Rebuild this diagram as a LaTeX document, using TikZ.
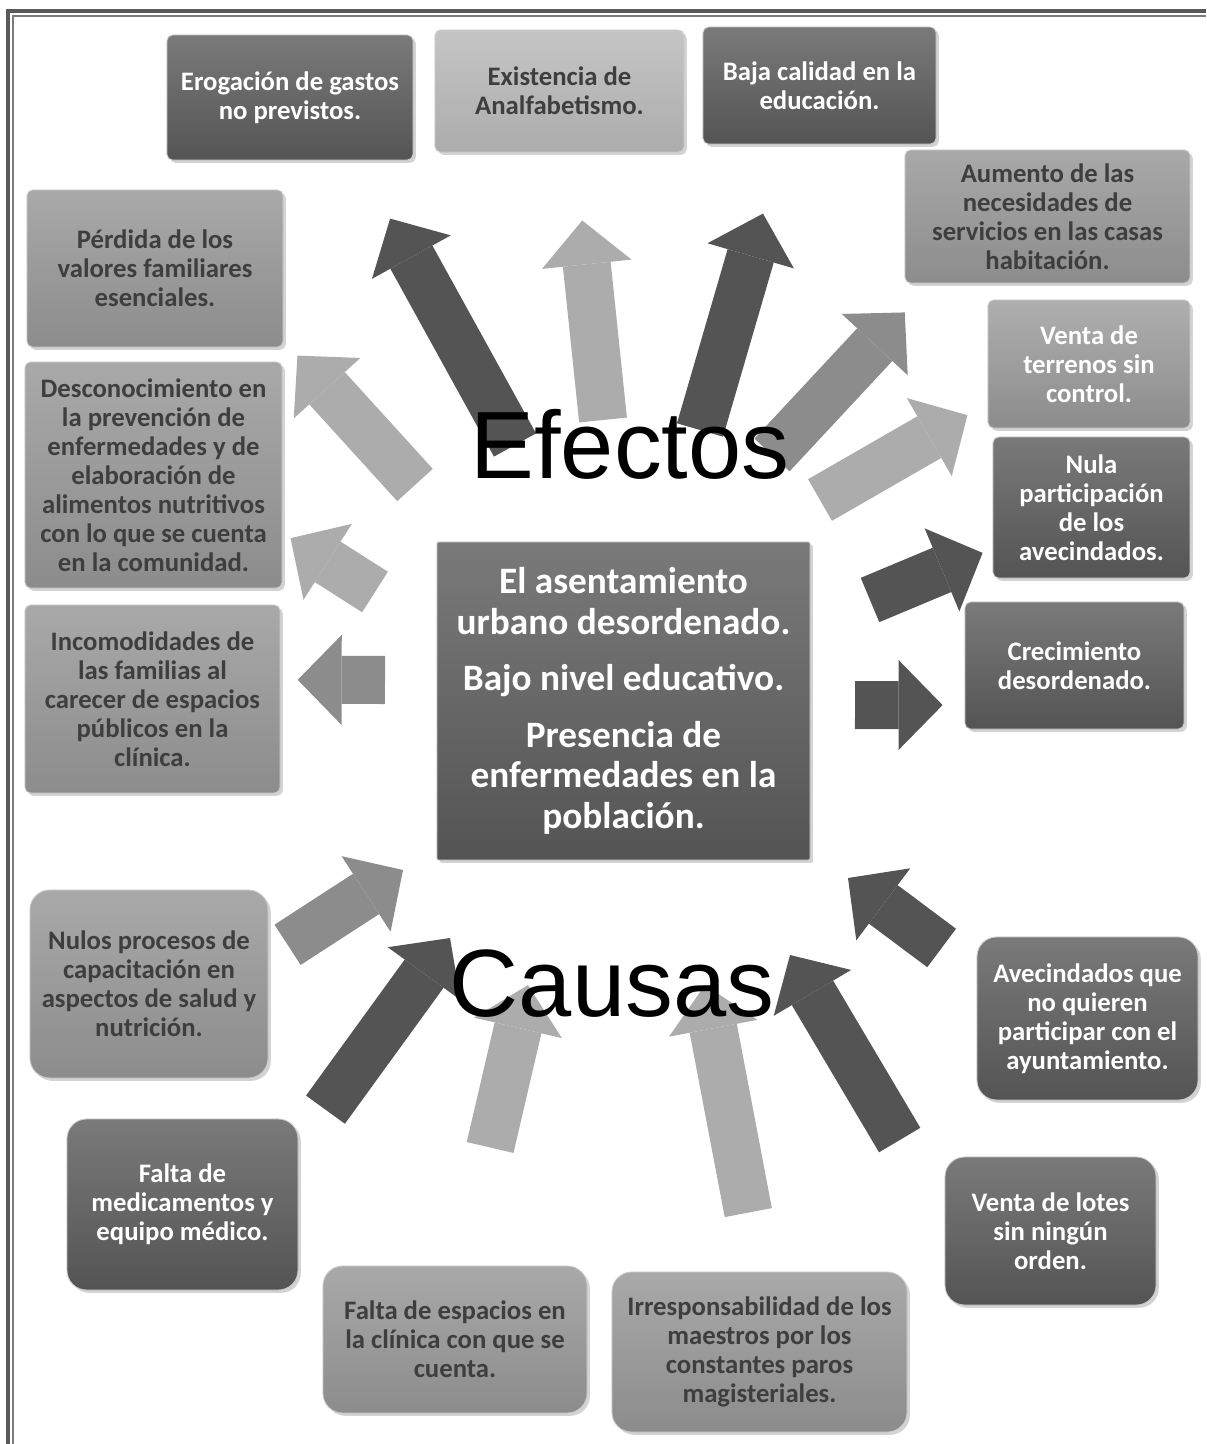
\documentclass[tikz,border=0pt]{standalone}
\usepackage{fontspec}
\setmainfont{Carlito}
\newfontfamily\arialfont{Liberation Sans}
\usetikzlibrary{arrows.meta,shadows}

\definecolor{darkgrey}{RGB}{84,84,84}
\definecolor{midgrey}{RGB}{140,140,140}
\definecolor{lightgrey}{RGB}{172,172,172}
\definecolor{boxtext}{RGB}{62,62,62}
\definecolor{framegrey}{RGB}{90,90,90}

\tikzset{
  box/.style={draw=white!80!black, line width=0.6pt, align=center, inner sep=2pt,
    font=\bfseries\fontsize{19}{20.6}\selectfont,
    drop shadow={opacity=0.35, shadow xshift=2pt, shadow yshift=-2pt}},
  effbox/.style={box, rounded corners=4pt},
  causebox/.style={box, rounded corners=14pt},
  darkfill/.style={top color=darkgrey!78!white, bottom color=darkgrey, text=white},
  midfill/.style={top color=midgrey!75!white, bottom color=midgrey, text=boxtext},
  midwhite/.style={top color=midgrey!70!white, bottom color=midgrey, text=white},
  lightfill/.style={top color=lightgrey!70!white, bottom color=lightgrey, text=boxtext},
  blockarrow/.style={line width=1.2cm, -{Triangle[length=1.1cm, width=2.25cm, line width=0pt]}},
  bigword/.style={font=\arialfont\fontsize{68}{72}\selectfont, inner sep=0pt, text=black},
}

\begin{document}
\begin{tikzpicture}[x=0.025cm, y=-0.025cm]
\useasboundingbox (0,0) rectangle (1206,1444);

% frame
\draw [line width=3.2pt, framegrey] (8,1444) -- (8,11) -- (1206,11);
\draw [line width=1.2pt, framegrey!80!white] (13,1444) -- (13,16) -- (1206,16);

% efectos
\node [effbox, darkfill, minimum width=6.15cm, minimum height=3.125cm] (ero) at (290,97.5) {Erogación de gastos\\no previstos.};
\node [effbox, lightfill, minimum width=6.225cm, minimum height=3.05cm] (analf) at (559.5,91) {Existencia de\\Analfabetismo.};
\node [effbox, darkfill, minimum width=5.825cm, minimum height=2.925cm] (baja) at (819.5,85.5) {Baja calidad en la\\educación.};
\node [effbox, midfill, minimum width=7.125cm, minimum height=3.325cm] (aum) at (1047.5,216.5) {Aumento de las\\necesidades de\\servicios en las casas\\habitación.};
\node [effbox, midwhite, minimum width=5.05cm, minimum height=3.2cm] (vterr) at (1089,364) {Venta de\\terrenos sin\\control.};
\node [effbox, darkfill, minimum width=4.925cm, minimum height=3.525cm] (nula) at (1091.5,507.5) {Nula\\participación\\de los\\avecindados.};
\node [effbox, darkfill, minimum width=5.475cm, minimum height=3.175cm] (crec) at (1074.5,665.5) {Crecimiento\\desordenado.};
\node [effbox, midfill, minimum width=6.4cm, minimum height=3.925cm] (perd) at (155,268.5) {Pérdida de los\\valores familiares\\esenciales.};
\node [effbox, midfill, minimum width=6.425cm, minimum height=5.65cm] (desc) at (153.5,475) {Desconocimiento en\\la prevención de\\enfermedades y de\\elaboración de\\alimentos nutritivos\\con lo que se cuenta\\en la comunidad.};
\node [effbox, midfill, minimum width=6.375cm, minimum height=4.7cm] (incom) at (152.5,699) {Incomodidades de\\las familias al\\carecer de espacios\\públicos en la\\clínica.};

% problema central
\node [effbox, darkfill, rounded corners=1pt, minimum width=9.325cm, minimum height=7.95cm,
  font=\bfseries\fontsize{26.5}{29}\selectfont] (centre) at (623.5,701)
  {El asentamiento\\urbano desordenado.\\[11pt]Bajo nivel educativo.\\[11pt]Presencia de\\enfermedades en la\\población.};

% causas
\node [causebox, midfill, minimum width=5.95cm, minimum height=4.7cm] (nulos) at (149,984) {Nulos procesos de\\capacitación en\\aspectos de salud y\\nutrición.};
\node [causebox, darkfill, minimum width=5.775cm, minimum height=4.275cm] (fmed) at (182.5,1204.5) {Falta de\\medicamentos y\\equipo médico.};
\node [causebox, midfill, minimum width=6.6cm, minimum height=3.675cm] (fesp) at (455,1339.5) {Falta de espacios en\\la clínica con que se\\cuenta.};
\node [causebox, midfill, minimum width=7.375cm, minimum height=4cm] (irr) at (759.5,1352) {Irresponsabilidad de los\\maestros por los\\constantes paros\\magisteriales.};
\node [causebox, darkfill, minimum width=5.275cm, minimum height=3.7cm] (vlot) at (1050.5,1231) {Venta de lotes\\sin ningún\\orden.};
\node [causebox, darkfill, minimum width=5.525cm, minimum height=4.075cm] (avec) at (1087.5,1018.5) {Avecindados que\\no quieren\\participar con el\\ayuntamiento.};

% flechas de efectos
\coordinate (ta) at (515,445);
\coordinate (tb) at (603,420);
\coordinate (tc) at (700,430);
\coordinate (td) at (772,455);
\coordinate (te) at (820,500);
\coordinate (tf) at (870,600);
\coordinate (tg) at (855,705);
\coordinate (th) at (415,485);
\coordinate (ti) at (375,592);
\coordinate (tj) at (385,680);

\draw [blockarrow, darkgrey, shorten >=1.66cm] (ta) -- ([xshift=1.7cm]ero.south);
\draw [blockarrow, lightgrey, shorten >=1.71cm] (tb) -- ([xshift=0.39cm]analf.south);
\draw [blockarrow, darkgrey, shorten >=1.8cm] (tc) -- ([xshift=-0.91cm]baja.south);
\draw [blockarrow, midgrey, shorten >=0.99cm] (td) -- ([xshift=0.68cm]aum.south west);
\draw [blockarrow, lightgrey, shorten >=0.58cm] (te) -- ([yshift=-0.99cm]vterr.west);
\draw [blockarrow, darkgrey, shorten >=0.27cm] (tf) -- ([yshift=-1.03cm]nula.west);
\draw [blockarrow, darkgrey, shorten >=0.55cm] (tg) -- ([yshift=-0.99cm]crec.west);
\draw [blockarrow, lightgrey, shorten >=0.52cm] (th) -- ([yshift=0.18cm]perd.south east);
\draw [blockarrow, lightgrey, shorten >=0.24cm] (ti) -- ([yshift=-1.45cm]desc.east);
\draw [blockarrow, midgrey, shorten >=0.43cm] (tj) -- ([yshift=0.48cm]incom.east);

% flechas de causas
\coordinate (pk) at (403,870);
\coordinate (pl) at (450,938);
\coordinate (pm) at (528,985);
\coordinate (pn) at (705,985);
\coordinate (po) at (790,955);
\coordinate (pp) at (848,878);

\draw [blockarrow, midgrey, shorten <=0.57cm] ([yshift=0.67cm]nulos.east) -- (pk);
\draw [blockarrow, darkgrey, shorten <=1.15cm] ([yshift=1.44cm]fmed.east) -- (pl);
\draw [blockarrow, lightgrey, shorten <=3.03cm] ([xshift=0.19cm]fesp.north) -- (pm);
\draw [blockarrow, lightgrey, shorten <=1.5cm] (irr.north) -- (pn);
\draw [blockarrow, darkgrey, shorten <=2.2cm] ([yshift=0.38cm]vlot.west) -- (po);
\draw [blockarrow, darkgrey, shorten <=1.09cm] ([yshift=1.11cm]avec.west) -- (pp);

\node [bigword, anchor=base] (efectos) at (630,478) {Efectos};
\node [bigword, anchor=base] (causas) at (612,1016) {Causas};
\end{tikzpicture}
\end{document}
